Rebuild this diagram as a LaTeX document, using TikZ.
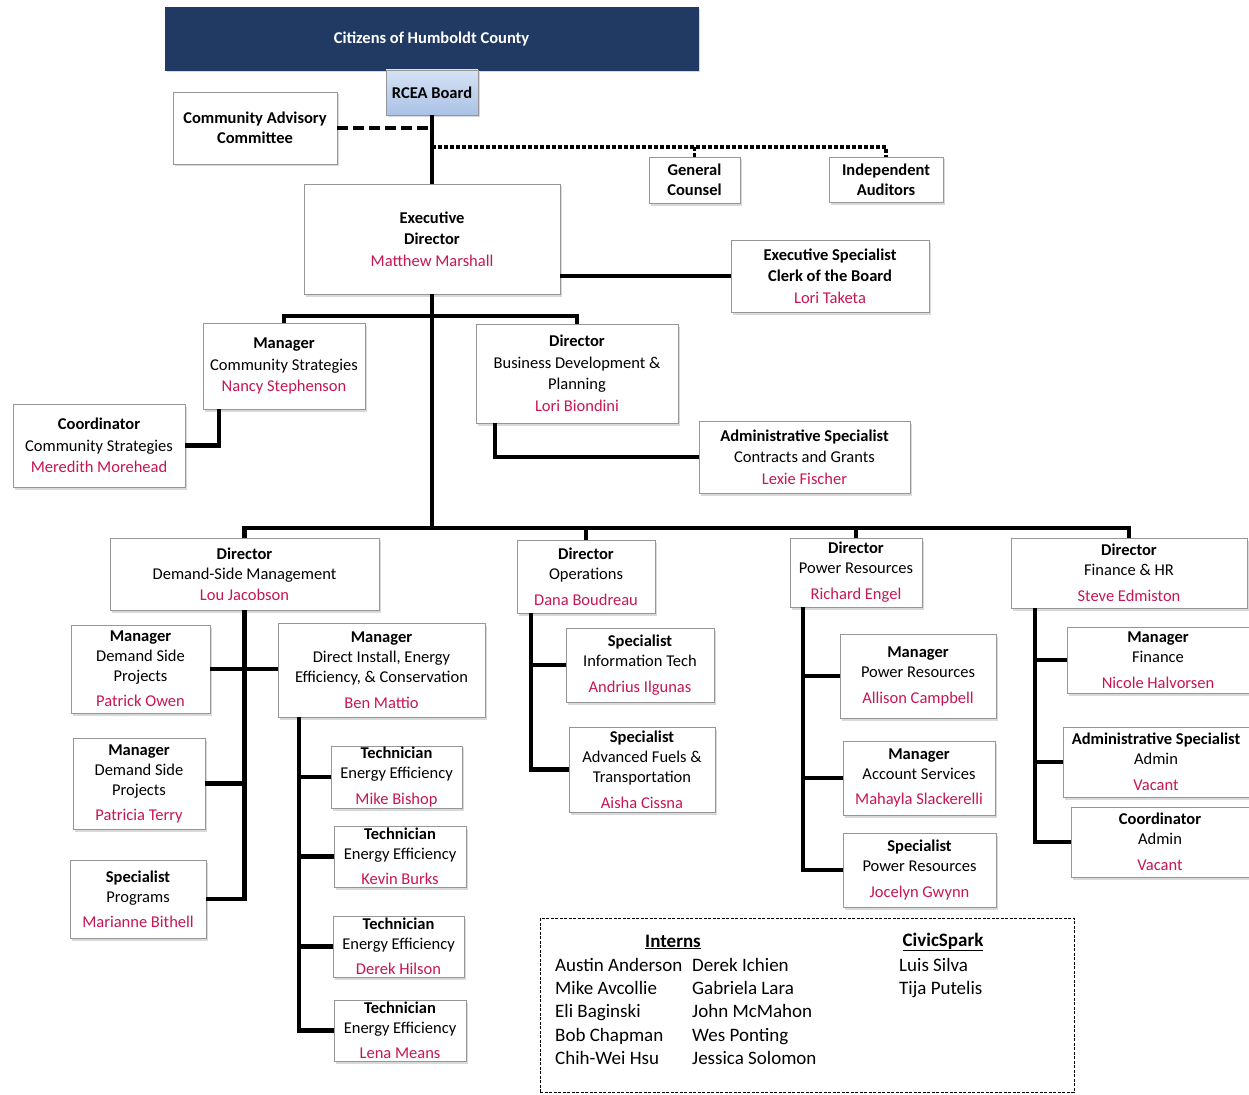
\documentclass[tikz,border=0pt]{standalone}
\usepackage{fontspec}
\setmainfont{Carlito}
\usetikzlibrary{shadows}

\definecolor{navy}{RGB}{33,58,100}
\definecolor{boardtop}{RGB}{214,226,244}
\definecolor{boardbot}{RGB}{170,194,230}
\definecolor{namered}{RGB}{200,22,82}
\definecolor{edgegray}{RGB}{150,150,150}

\newcommand{\who}[1]{{\color{namered}#1}}

\begin{document}
\begin{tikzpicture}[
            x = 1pt, % one pixel of the chart
            y = -1pt,
            font = \fontsize{16.5}{20}\selectfont
        ]

        \tikzstyle{box}=[
            draw = edgegray,
            fill = white,
            align = center,
            inner sep = 1pt,
            drop shadow = {shadow xshift=2pt, shadow yshift=-2.5pt, opacity=0.3}
        ]
        \tikzstyle{roomy}=[font=\fontsize{16.5}{21.5}\selectfont]
        \tikzstyle{link}=[line width=4.3pt]
        \tikzstyle{dotlink}=[line width=3.5pt, dash pattern=on 4pt off 2pt]

        \useasboundingbox (0,0) rectangle (1249,1094);

        % board level
        \node[box, fill=navy, draw=navy, text=white, minimum width=533, minimum height=63] (county) at (431.5,38.5) {\textbf{Citizens of Humboldt County}};
        \node[box, draw=edgegray, top color=boardtop, bottom color=boardbot, minimum width=92, minimum height=45] (board) at (432,92.5) {\textbf{RCEA Board}};
        \node[box, minimum width=164, minimum height=72] (cac) at (255,128) {\textbf{Community Advisory}\\\textbf{Committee}};
        \node[box, minimum width=91, minimum height=46] (counsel) at (694.5,180) {\textbf{General}\\\textbf{Counsel}};
        \node[box, minimum width=114, minimum height=45] (auditors) at (886,179.5) {\textbf{Independent}\\\textbf{Auditors}};

        % executive
        \node[box, roomy, minimum width=256, minimum height=110] (exec) at (432,239) {\textbf{Executive}\\\textbf{Director}\\\who{Matthew Marshall}};
        \node[box, roomy, minimum width=198, minimum height=72] (clerk) at (830,276) {\textbf{Executive Specialist}\\\textbf{Clerk of the Board}\\\who{Lori Taketa}};
        \node[box, roomy, minimum width=162, minimum height=86] (mgrcs) at (284,366) {\textbf{Manager}\\Community Strategies\\\who{Nancy Stephenson}};
        \node[box, roomy, minimum width=172, minimum height=83] (coordcs) at (99,445.5) {\textbf{Coordinator}\\Community Strategies\\\who{Meredith Morehead}};
        \node[box, roomy, minimum width=202, minimum height=99] (dirbd) at (577,373.5) {\textbf{Director}\\Business Development \&\\Planning\\\who{Lori Biondini}};
        \node[box, roomy, minimum width=211, minimum height=72] (admcg) at (804.5,457) {\textbf{Administrative Specialist}\\Contracts and Grants\\\who{Lexie Fischer}};

        % directors
        \node[box, minimum width=269, minimum height=72] (dirdsm) at (244.5,574) {\textbf{Director}\\Demand-Side Management\\[1pt]\who{Lou Jacobson}};
        \node[box, minimum width=138, minimum height=73] (dirops) at (586,576.5) {\textbf{Director}\\Operations\\[6pt]\who{Dana Boudreau}};
        \node[box, minimum width=132, minimum height=69] (dirpr) at (856,572.5) {\textbf{Director}\\Power Resources\\[6pt]\who{Richard Engel}};
        \node[box, minimum width=236, minimum height=70] (dirfin) at (1129,573) {\textbf{Director}\\Finance \& HR\\[6pt]\who{Steve Edmiston}};

        % demand-side management
        \node[box, minimum width=139, minimum height=88] (mgrdsp1) at (140.5,669) {\textbf{Manager}\\Demand Side\\Projects\\[5pt]\who{Patrick Owen}};
        \node[box, minimum width=207, minimum height=94] (mgrdi) at (381.5,670) {\textbf{Manager}\\Direct Install, Energy\\Efficiency, \& Conservation\\[6pt]\who{Ben Mattio}};
        \node[box, minimum width=132, minimum height=91] (mgrdsp2) at (139,783.5) {\textbf{Manager}\\Demand Side\\Projects\\[5pt]\who{Patricia Terry}};
        \node[box, minimum width=136, minimum height=78] (specprog) at (138,899) {\textbf{Specialist}\\Programs\\[5pt]\who{Marianne Bithell}};
        \node[box, minimum width=131, minimum height=62] (tech1) at (396.5,777) {\textbf{Technician}\\Energy Efficiency\\[6pt]\who{Mike Bishop}};
        \node[box, minimum width=132, minimum height=61] (tech2) at (400,856.5) {\textbf{Technician}\\Energy Efficiency\\[5pt]\who{Kevin Burks}};
        \node[box, minimum width=131, minimum height=61] (tech3) at (398.5,946.5) {\textbf{Technician}\\Energy Efficiency\\[5pt]\who{Derek Hilson}};
        \node[box, minimum width=132, minimum height=61] (tech4) at (400,1030.5) {\textbf{Technician}\\Energy Efficiency\\[5pt]\who{Lena Means}};

        % operations
        \node[box, minimum width=148, minimum height=74] (specit) at (640,665) {\textbf{Specialist}\\Information Tech\\[6pt]\who{Andrius Ilgunas}};
        \node[box, minimum width=146, minimum height=85] (specaf) at (642,769.5) {\textbf{Specialist}\\Advanced Fuels \&\\Transportation\\[6pt]\who{Aisha Cissna}};

        % power resources
        \node[box, minimum width=156, minimum height=84] (mgrpr) at (918,676) {\textbf{Manager}\\Power Resources\\[6pt]\who{Allison Campbell}};
        \node[box, minimum width=152, minimum height=74] (mgras) at (919,778) {\textbf{Manager}\\Account Services\\[5pt]\who{Mahayla Slackerelli}};
        \node[box, minimum width=153, minimum height=74] (specpr) at (919.5,870) {\textbf{Specialist}\\Power Resources\\[6pt]\who{Jocelyn Gwynn}};

        % finance & hr
        \node[box, minimum width=182, minimum height=66] (mgrfin) at (1158,660) {\textbf{Manager}\\Finance\\[6pt]\who{Nicole Halvorsen}};
        \node[box, minimum width=186, minimum height=70] (admadm) at (1156,762) {\textbf{Administrative Specialist}\\Admin\\[6pt]\who{Vacant}};
        \node[box, minimum width=178, minimum height=70] (coordadm) at (1160,842) {\textbf{Coordinator}\\Admin\\[6pt]\who{Vacant}};

        % interns
        \node[draw, line width=1pt, dash pattern=on 3pt off 1.5pt, minimum width=534, minimum height=174] (crew) at (807,1005) {};
        \node[font=\fontsize{19}{23}\selectfont\bfseries] (internhead) at (673,942) {\underline{Interns}};
        \node[font=\fontsize{19}{23}\selectfont\bfseries] (civichead) at (943,942) {\underline{CivicSpark}};
        \node[anchor=north west, align=left, inner sep=0, font=\fontsize{19}{23.2}\selectfont] (internsA) at (555,958) {Austin Anderson\\Mike Avcollie\\Eli Baginski\\Bob Chapman\\Chih-Wei Hsu};
        \node[anchor=north west, align=left, inner sep=0, font=\fontsize{19}{23.2}\selectfont] (internsB) at (692,958) {Derek Ichien\\Gabriela Lara\\John McMahon\\Wes Ponting\\Jessica Solomon};
        \node[anchor=north west, align=left, inner sep=0, font=\fontsize{19}{23.2}\selectfont] (civic) at (899,958) {Luis Silva\\Tija Putelis};

        % connectors
        \coordinate (tap) at (432,147);
        \coordinate (split) at (432,316);
        \coordinate (bus) at (432,528);

        \draw[link] (board.south) -- (exec.north);
        \draw[link, dash pattern=on 11pt off 5pt] (cac.east) -- (cac.east -| board.south);
        \draw[dotlink] (tap) -| (auditors.north);
        \draw[dotlink] (counsel.north) -- (counsel.north |- tap);
        \draw[link] (clerk.west -| exec.east) -- (clerk.west);
        \draw[link] (exec.south) -- (bus);
        \draw[link] (mgrcs.north) |- (split) -| (dirbd.north);
        \draw[link] ([xshift=16pt]mgrcs.south west) |- (coordcs.east);
        \draw[link] ([xshift=19pt]dirbd.south west) |- (admcg.west);

        \draw[link] (dirdsm.north) |- (bus) -| (dirfin.north);
        \draw[link] (dirops.north) -- (dirops.north |- bus);
        \draw[link] (dirpr.north) -- (dirpr.north |- bus);

        \draw[link] (dirdsm.south) |- (specprog.east);
        \draw[link] (mgrdsp1.east) -- (mgrdsp1.east -| mgrdi.west);
        \draw[link] (mgrdsp2.east) -- (mgrdsp2.east -| dirdsm.south);

        \coordinate (ditrunk) at ([xshift=21pt]mgrdi.south west);
        \draw[link] (ditrunk) |- (tech4.west);
        \draw[link] (tech1.west) -- (tech1.west -| ditrunk);
        \draw[link] (tech2.west) -- (tech2.west -| ditrunk);
        \draw[link] (tech3.west) -- (tech3.west -| ditrunk);

        \coordinate (opstrunk) at ([xshift=14pt]dirops.south west);
        \draw[link] (opstrunk) |- (specaf.west);
        \draw[link] (specit.west) -- (specit.west -| opstrunk);

        \coordinate (prtrunk) at ([xshift=13pt]dirpr.south west);
        \draw[link] (prtrunk) |- (specpr.west);
        \draw[link] (mgrpr.west) -- (mgrpr.west -| prtrunk);
        \draw[link] (mgras.west) -- (mgras.west -| prtrunk);

        \coordinate (fintrunk) at ([xshift=24pt]dirfin.south west);
        \draw[link] (fintrunk) |- (coordadm.west);
        \draw[link] (mgrfin.west) -- (mgrfin.west -| fintrunk);
        \draw[link] (admadm.west) -- (admadm.west -| fintrunk);
    \end{tikzpicture}
\end{document}
